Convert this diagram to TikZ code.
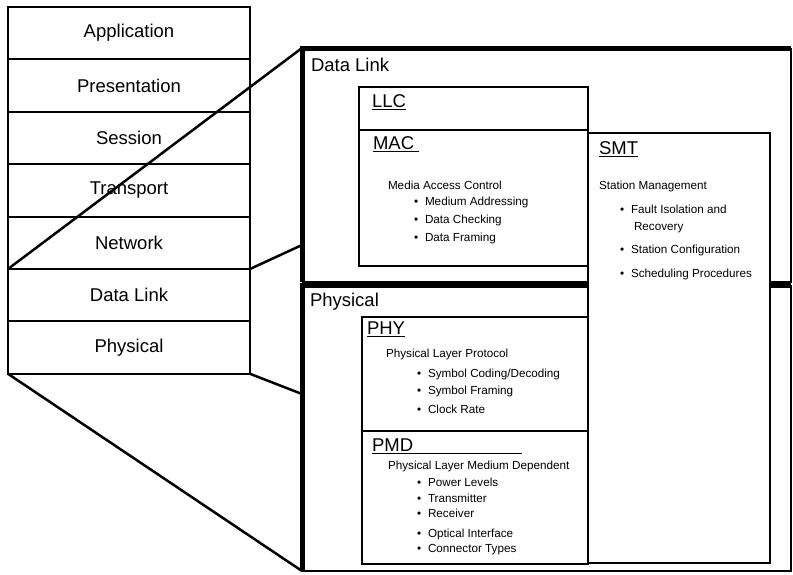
\documentclass[tikz,border=0pt]{standalone}
\usepackage{fontspec}
\setmainfont{Liberation Sans}
\newcommand\bulletitem[1]{\makebox[11pt][l]{\textbullet}#1}
\begin{document}
\begin{tikzpicture}[x=1pt, y=-1pt,
  layer/.style={draw, line width=2pt, fill=white, minimum width=242pt,
    minimum height=52.4pt, inner sep=0pt, outer sep=0pt,
    font=\fontsize{18.5}{22}\selectfont},
  region/.style={inner sep=0pt, outer sep=0pt},
  sub/.style={draw, line width=2pt, fill=white, inner sep=0pt, outer sep=0pt},
  big/.style={inner sep=0pt, outer sep=0pt, anchor=base west,
    font=\fontsize{18.5}{22}\selectfont},
  small/.style={inner sep=0pt, outer sep=0pt, anchor=base west,
    font=\fontsize{11.7}{14}\selectfont},
  link/.style={line width=2.5pt},
  heavyedge/.style={line width=5pt, line join=miter},
  lightedge/.style={line width=2pt},
  uline/.style={line width=1pt}]
\useasboundingbox (0,0) rectangle (793,574);

% OSI stack on the left
\node[layer] (app) at (129,33.2)  {Application};
\node[layer] (pre) at (129,85.6)  {Presentation};
\node[layer] (ses) at (129,138)   {Session};
\node[layer] (tra) at (129,190.4) {Transport};
\node[layer] (net) at (129,242.8) {Network};
\node[layer] (dl)  at (129,295.2) {Data Link};
\node[layer] (ph)  at (129,347.6) {Physical};

% expanded Data Link and Physical regions
\node[region, minimum width=489pt, minimum height=234pt] (dlf) at (546.5,165) {};
\node[region, minimum width=489pt, minimum height=286pt] (phf) at (546.5,428) {};
\draw[lightedge] (dlf.north east) -- (dlf.south east) -- (dlf.south west);
\draw[heavyedge] (dlf.south west) -- (dlf.north west) -- (dlf.north east);
\draw[lightedge] (phf.north east) -- (phf.south east) -- (phf.south west);
\draw[heavyedge] (phf.south west) -- (phf.north west) -- (phf.north east);
\node[big] (dlt) at (311,71)  {Data Link};
\node[big] (pht) at (310,306) {Physical};

% zoom lines from the stack to the expanded regions
\coordinate (dlin) at (302,245);
\coordinate (phin) at (302,394);
\draw[link] (dl.north west) -- (dlf.north west);
\draw[link] (dl.north east) -- (dlin);
\draw[link] (ph.south east) -- (phin);
\draw[link] (ph.south west) -- (phf.south west);

% SMT spans both layers
\node[sub, minimum width=182pt, minimum height=430pt] (smt) at (679,348) {};
\node[big] (smtt) at (599,154) {SMT};
\draw[uline] ([yshift=-2.5pt]smtt.base west) -- ([yshift=-2.5pt]smtt.base east);
\node[small] at (599,189) {Station Management};
\node[small] at (620,213) {\bulletitem{Fault Isolation and}};
\node[small] at (634,230) {Recovery};
\node[small] at (620,253) {\bulletitem{Station Configuration}};
\node[small] at (620,277) {\bulletitem{Scheduling Procedures}};

% LLC and MAC sublayers
\node[sub, minimum width=229pt, minimum height=43pt]  (llc) at (473.5,108.5) {};
\node[sub, minimum width=229pt, minimum height=136pt] (mac) at (473.5,198) {};
\node[big] (llct) at (372,107) {LLC};
\draw[uline] ([yshift=-2.5pt]llct.base west) -- ([yshift=-2.5pt]llct.base east);
\node[big] (mact) at (373,149) {MAC};
\draw[uline] ([yshift=-2.5pt]mact.base west) -- ([yshift=-2.5pt,xshift=5pt]mact.base east);
\node[small] at (388,189) {Media Access Control};
\node[small] at (414,205) {\bulletitem{Medium Addressing}};
\node[small] at (414,223) {\bulletitem{Data Checking}};
\node[small] at (414,241) {\bulletitem{Data Framing}};

% PHY and PMD sublayers
\node[sub, minimum width=226pt, minimum height=114pt] (phy) at (475,374) {};
\node[sub, minimum width=226pt, minimum height=133pt] (pmd) at (475,497.5) {};
\node[big] (phyt) at (367,334) {PHY};
\draw[uline] ([yshift=-2.5pt]phyt.base west) -- ([yshift=-2.5pt]phyt.base east);
\node[small] at (386,357) {Physical Layer Protocol};
\node[small] at (417,377) {\bulletitem{Symbol Coding/Decoding}};
\node[small] at (417,394) {\bulletitem{Symbol Framing}};
\node[small] at (417,413) {\bulletitem{Clock Rate}};
\node[big] (pmdt) at (372,451) {PMD};
\draw[uline] ([yshift=-2.5pt]pmdt.base west) -- ++(150,0);
\node[small] at (388,469) {Physical Layer Medium Dependent};
\node[small] at (417,486) {\bulletitem{Power Levels}};
\node[small] at (417,502) {\bulletitem{Transmitter}};
\node[small] at (417,517) {\bulletitem{Receiver}};
\node[small] at (417,537) {\bulletitem{Optical Interface}};
\node[small] at (417,552) {\bulletitem{Connector Types}};
\end{tikzpicture}
\end{document}
